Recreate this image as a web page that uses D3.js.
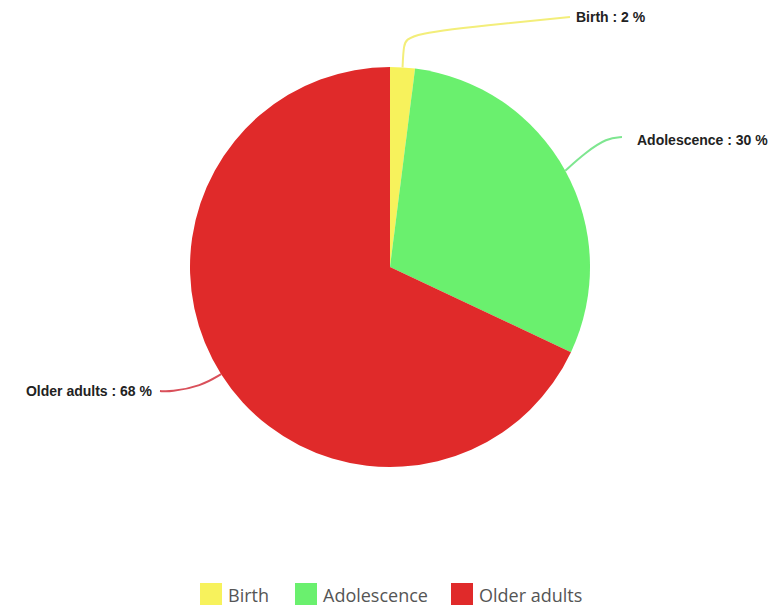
<!DOCTYPE html>
<html>
<head>
<meta charset="utf-8">
<script src="https://d3js.org/d3.v7.min.js"></script>
<style>
  body { margin: 0; background: #fff; }
  .lbl { font-family: "Liberation Sans", Arial, sans-serif; font-weight: bold; font-size: 14px; fill: #222; }
  .leg { font-family: "Open Sans", sans-serif; font-size: 18px; fill: #555; }
</style>
</head>
<body>
<svg class="chart"></svg>
<script>
var categories = ["Birth", "Adolescence", "Older adults"];
var values = [2, 30, 68];
var colors = ["#f7f25c", "#6af06e", "#e02a2a"];
var lineColors = ["#f3ee7a", "#7ee690", "#d9505a"];

var svgWidth = 776, svgHeight = 607;
var cx = 390, cy = 267, radius = 200;

var svg = d3.select(".chart").attr("width", svgWidth).attr("height", svgHeight);

var pie = d3.pie().sort(null).value(function(d) { return d; });
var arcs = pie(values);
var arc = d3.arc().innerRadius(0).outerRadius(radius);

var g = svg.append("g").attr("transform", "translate(" + cx + "," + cy + ")");

g.selectAll(".slice")
    .data(arcs).enter().append("path")
        .attr("class", "slice")
        .attr("d", arc)
        .attr("fill", function(d, i) { return colors[i]; });

// leader lines: start on the rim, end near the label (relative to center)
var labelPos = [
    {x: 180, y: -250, anchor: "start", tx: 186},
    {x: 232, y: -127, anchor: "start", tx: 247},
    {x: -230, y: 124, anchor: "end", tx: -238}
];
var line = d3.line().curve(d3.curveBasis);

arcs.forEach(function(a, i) {
    var mid = (a.startAngle + a.endAngle) / 2;
    var sx = Math.sin(mid) * radius, sy = -Math.cos(mid) * radius;
    var p = labelPos[i], pts;
    if (i === 0) {
        pts = [[sx, sy], [sx + 1, sy - 22], [sx + 5, sy - 34], [p.x - 60, p.y + 6], [p.x, p.y]];
    } else if (i === 1) {
        pts = [[sx, sy], [sx + 20, sy - 18], [p.x - 15, p.y - 2], [p.x, p.y - 3]];
    } else {
        pts = [[sx, sy], [sx - 20, sy + 12], [p.x + 10, p.y + 1], [p.x, p.y]];
    }
    g.append("path")
        .attr("d", line(pts))
        .attr("fill", "none")
        .attr("stroke", lineColors[i])
        .attr("stroke-width", 2);
    g.append("text")
        .attr("class", "lbl")
        .attr("x", p.tx)
        .attr("y", p.y)
        .attr("dy", "0.35em")
        .attr("text-anchor", p.anchor)
        .text(categories[i] + " : " + values[i] + " %");
});

// legend
var legX = [200, 295, 451];
var legend = svg.selectAll(".legend")
    .data(categories).enter().append("g")
        .attr("class", "legend")
        .attr("transform", function(d, i) { return "translate(" + legX[i] + ",583)"; });
legend.append("rect")
    .attr("width", 22).attr("height", 22)
    .attr("fill", function(d, i) { return colors[i]; });
legend.append("text")
    .attr("class", "leg")
    .attr("x", 28).attr("y", 19)
    .text(function(d) { return d; });
</script>
</body>
</html>
